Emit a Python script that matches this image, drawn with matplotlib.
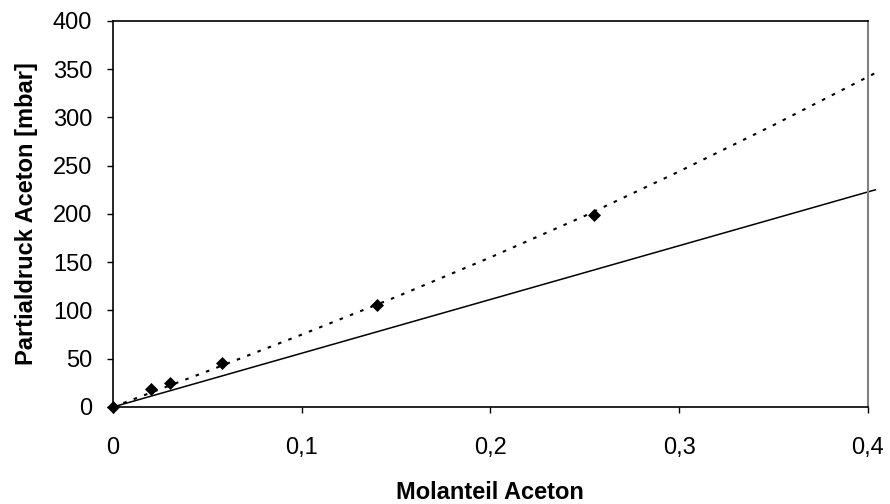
import matplotlib
matplotlib.use("Agg")
import matplotlib.pyplot as plt

plt.rcParams['font.family'] = ['Liberation Sans', 'DejaVu Sans']

# measured points (Molanteil, Partialdruck in mbar)
x_meas = [0.0, 0.02, 0.03, 0.058, 0.14, 0.255]
p_meas = [0, 19, 25, 46, 106, 199]

x_fit = [0.0, 0.05, 0.1, 0.15, 0.2, 0.25, 0.3, 0.35, 0.4, 0.404]
p_fit = [0, 37, 75, 114, 155, 198, 244, 292, 342, 346]

# solid reference line
x_ref = [0.0, 0.404]
p_ref = [0, 225]

x_ticks = [0.0, 0.1, 0.2, 0.3, 0.4]
x_ticklabels = ['0', '0,1', '0,2', '0,3', '0,4']
y_ticks = [0, 50, 100, 150, 200, 250, 300, 350, 400]

fig = plt.figure(figsize=(8.9, 5.04), dpi=100)
ax = fig.add_axes([0.127, 0.1925, 0.848, 0.766])

ax.plot(x_ref, p_ref, color='black', linewidth=1.1, clip_on=False)
ax.plot(x_fit, p_fit, color='black', linewidth=1.5,
        linestyle=(0, (1.7, 3.6)), clip_on=False)
ax.plot(x_meas, p_meas, linestyle='none', marker='D', markersize=6.5,
        color='black', markeredgewidth=0.5, clip_on=False, zorder=5)

ax.set_xlim(0, 0.4)
ax.set_ylim(0, 400)
ax.set_xticks(x_ticks)
ax.set_xticklabels(x_ticklabels)
ax.set_yticks(y_ticks)
ax.tick_params(direction='out', length=4.5, width=1, labelsize=17)
ax.tick_params(axis='x', pad=17)
ax.tick_params(axis='y', pad=10.5)

for side in ['left', 'bottom', 'top']:
    ax.spines[side].set_color('black')
    ax.spines[side].set_linewidth(1.2)
ax.spines['right'].set_color('#808080')
ax.spines['right'].set_linewidth(1.5)

ax.set_xlabel('Molanteil Aceton', fontsize=17, fontweight='bold', labelpad=16)
ax.set_ylabel('Partialdruck Aceton [mbar]', fontsize=17, fontweight='bold', labelpad=11)

fig.savefig('out.png', dpi=100)
